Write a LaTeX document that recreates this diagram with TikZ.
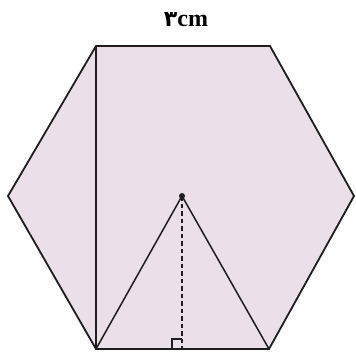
\documentclass[tikz,border=0pt]{standalone}
\usepackage{fontspec}
\setmainfont{Liberation Serif}
\newfontfamily\arabicfont[Script=Arabic]{DejaVu Sans}
\definecolor{hexfill}{RGB}{235,224,234}
\definecolor{edge}{RGB}{30,30,30}
\begin{document}
\begin{tikzpicture}[x=1pt,y=-1pt,
  edgeline/.style={draw=edge,line width=1.8pt,line join=miter},
  thinline/.style={draw=edge,line width=1.5pt}]
\useasboundingbox (0,0) rectangle (356,354);
\coordinate (TL) at (96,46);
\coordinate (TR) at (270,46);
\coordinate (R) at (354,196);
\coordinate (BR) at (269,349);
\coordinate (BL) at (96,349);
\coordinate (L) at (8,196);
\coordinate (O) at (182,196);
\coordinate (F) at (182,349);
\fill[hexfill] (TL) -- (TR) -- (R) -- (BR) -- (BL) -- (L) -- cycle;
\draw[edgeline] (TL) -- (TR) -- (R) -- (BR) -- (BL) -- (L) -- cycle;
\draw[edgeline] (TL) -- (BL);
\draw[thinline] (BL) -- (O) -- (BR);
\draw[draw=edge,line width=1.3pt,dash pattern=on 4.5pt off 3pt] (O) -- (F);
\draw[draw=edge,line width=1.3pt] (172,349) -- (172,339) -- (182,339);
\fill[edge] (O) circle (3);
\node[font=\bfseries\fontsize{24}{28}\selectfont,anchor=base,inner sep=0pt] (lab) at (186,26) {{\arabicfont\fontsize{22}{26}\selectfont ۳}cm};
\end{tikzpicture}
\end{document}
